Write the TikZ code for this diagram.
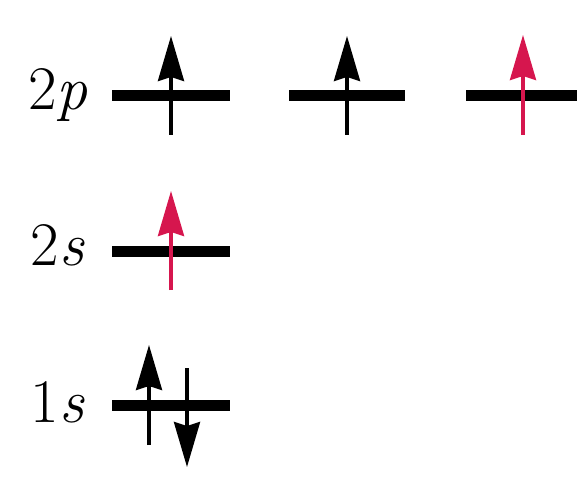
\documentclass[tikz,border=0pt]{standalone}
\usetikzlibrary{arrows.meta}
\definecolor{spinred}{RGB}{214,22,78}
\begin{document}
\begin{tikzpicture}[x=1pt,y=-1pt,
  level/.style={line width=11pt},
  spin/.style={line width=3.5pt,-{Stealth[length=45pt,width=26pt,inset=4pt]}},
  lbl/.style={anchor=base east,inner sep=0pt,font=\fontsize{62}{62}\selectfont}]
\useasboundingbox (0,0) rectangle (577,478);
% levels
\draw[level] (112,96) coordinate (p1a) -- (230,96) coordinate (p1b);
\draw[level] (289,96) coordinate (p2a) -- (405,96) coordinate (p2b);
\draw[level] (466,96) coordinate (p3a) -- (577,96) coordinate (p3b);
\draw[level] (112,251) coordinate (sa) -- (230,251) coordinate (sb);
\draw[level] (112,405) coordinate (1a) -- (230,405) coordinate (1b);
% labels
\node[lbl] (l2p) at (88,110) {2{\itshape p}};
\node[lbl] (l2s) at (84,265) {2{\itshape s}};
\node[lbl] (l1s) at (84,422) {1{\itshape s}};
% spins
\coordinate (a1s) at (171,135); \coordinate (a1e) at (171,36);
\coordinate (a2s) at (347,135); \coordinate (a2e) at (347,36);
\coordinate (a3s) at (523,135); \coordinate (a3e) at (523,35);
\coordinate (a4s) at (171,290); \coordinate (a4e) at (171,191);
\coordinate (a5s) at (149,445); \coordinate (a5e) at (149,345);
\coordinate (a6s) at (187,368); \coordinate (a6e) at (187,467);
\draw[spin] (a1s) -- (a1e);
\draw[spin] (a2s) -- (a2e);
\draw[spin,spinred] (a3s) -- (a3e);
\draw[spin,spinred] (a4s) -- (a4e);
\draw[spin] (a5s) -- (a5e);
\draw[spin] (a6s) -- (a6e);
\end{tikzpicture}
\end{document}
